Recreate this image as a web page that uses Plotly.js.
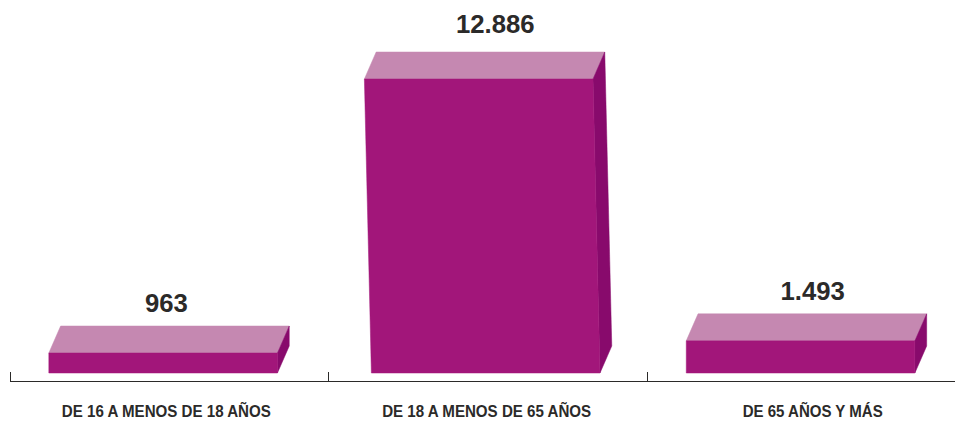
<!DOCTYPE html>
<html><head><meta charset="utf-8">
<script src="https://cdn.plot.ly/plotly-3.0.1.min.js"></script>
<style>html,body{margin:0;padding:0;background:#fff}#c{width:955px;height:422px}</style>
</head><body><div id="c"></div>
<script>
const categories = ["DE 16 A MENOS DE 18 AÑOS", "DE 18 A MENOS DE 65 AÑOS", "DE 65 AÑOS Y MÁS"];
const values = [963, 12886, 1493];
const valueLabels = ["963", "12.886", "1.493"];
const centers = [-0.019, 0.994, 1.983];
const tilts = [0, -0.022, 0];
const categoryLabelX = [-0.009, 0.997, 2.021];
const valueLabelX = [-0.009, 1.024, 2.021];
const valueLabelLift = [900, 1100, 900];
const boundaries = [-0.5, 0.5, 1.503];
const categoryLabelWidths = [209, 209, 140];

const halfWidth = 0.359, depthX = 0.037, depthY = 1175, floorValue = 93;
const frontColor = "#a2167a", topColor = "#c588b1", sideColor = "#880a6c", inkColor = "#2b2a29";

function poly(xs, ys, color) {
  return {type: "scatter", mode: "lines", x: xs, y: ys, fill: "toself", fillcolor: color,
          line: {color: color, width: 0.5}, hoverinfo: "skip", showlegend: false};
}
const traces = [];
values.forEach((v, i) => {
  const c = centers[i], t = tilts[i];
  const bl = c - halfWidth, br = c + halfWidth, tl = bl + t, tr = br + t;
  traces.push(poly([tl, tr, tr + depthX, tl + depthX, tl], [v, v, v + depthY, v + depthY, v], topColor));
  traces.push(poly([tr, tr + depthX, br + depthX, br, tr],
                   [v, v + depthY, floorValue + depthY, floorValue, v], sideColor));
  traces.push(poly([tl, tr, br, bl, tl], [v, v, floorValue, floorValue, v], frontColor));
});
traces.push({type: "scatter", mode: "text", x: valueLabelX,
  y: values.map((v, i) => v + depthY + valueLabelLift[i]),
  text: valueLabels, textposition: "middle center",
  textfont: {family: "Liberation Sans, Arial, sans-serif", size: 25.7, color: inkColor, weight: 700},
  hoverinfo: "skip", showlegend: false});

const layout = {
  width: 955, height: 422, margin: {l: 10, r: 0, t: 0, b: 41},
  paper_bgcolor: "#fff", plot_bgcolor: "#fff", showlegend: false,
  font: {family: "Liberation Sans, Arial, sans-serif", color: inkColor},
  xaxis: {range: [-0.5, 2.468], showgrid: false, zeroline: false, showline: true, linecolor: inkColor, linewidth: 1,
    tickmode: "array", tickvals: categoryLabelX, ticktext: categories, ticks: "", ticklabelstandoff: 16,
    tickfont: {family: "Liberation Sans, Arial, sans-serif", size: 16, color: inkColor, weight: 700},
    minor: {tickmode: "array", tickvals: boundaries, ticks: "inside", ticklen: 9, tickwidth: 1, tickcolor: inkColor, showgrid: false}},
  yaxis: {range: [-255, 16324], visible: false, showgrid: false, zeroline: false}
};
Plotly.newPlot("c", traces, layout, {displayModeBar: false, staticPlot: true}).then(() => {
  // The reference uses a condensed bold face: condense the real text to its measured width.
  document.querySelectorAll("#c .xtick text").forEach((el, i) => {
    el.setAttribute("textLength", categoryLabelWidths[i]);
    el.setAttribute("lengthAdjust", "spacingAndGlyphs");
  });
});
</script></body></html>
